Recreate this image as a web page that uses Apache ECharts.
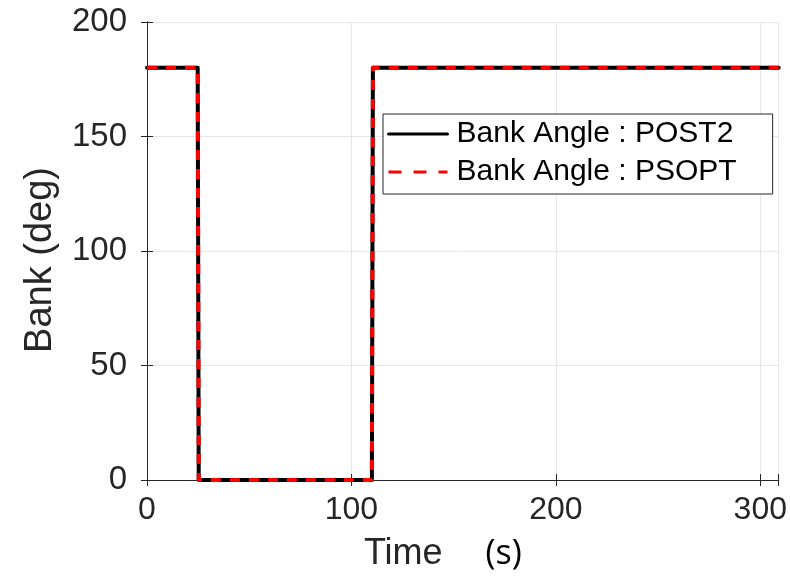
<!DOCTYPE html>
<html>
<head>
<meta charset="utf-8">
<script src="https://cdn.jsdelivr.net/npm/echarts@6/dist/echarts.min.js"></script>
<style>
  html, body { margin: 0; padding: 0; background: #fff; }
  #chart { width: 790px; height: 579px; }
</style>
</head>
<body>
<div id="chart"></div>
<script>
// Bank angle history (time in s, bank in deg)
const post2Time  = [0, 24.8, 25.3, 110.0, 110.5, 309];
const post2Bank  = [180, 180, 0, 0, 180, 180];
const psoptTime  = [0, 24.8, 25.3, 110.0, 110.5, 309];
const psoptBank  = [180, 180, 0, 0, 180, 180];
const seriesNames = ['Bank Angle : POST2', 'Bank Angle : PSOPT'];
const xTicks = [0, 100, 200, 300];
const yTicks = [0, 50, 100, 150, 200];

const pairs = (xs, ys) => xs.map((x, i) => [x, ys[i]]);

const axisColor = '#262626';
const gridColor = '#e6e6e6';
const font = '"Liberation Sans", Arial, Helvetica, sans-serif';

const chart = echarts.init(document.getElementById('chart'), null, { renderer: 'canvas' });

const baseAxis = {
  axisLine: { show: true, lineStyle: { color: axisColor, width: 1 } },
  axisTick: { show: true, inside: true, length: 6, lineStyle: { color: axisColor } },
  splitLine: { show: false }
};

chart.setOption({
  animation: false,
  backgroundColor: '#ffffff',
  grid: { left: 147, right: 9, top: 22, bottom: 99, containLabel: false },
  xAxis: [
    Object.assign({}, baseAxis, {
      type: 'value', min: 0, max: 309, interval: 100,
      name: '{t|Time}{s|(s)}', nameLocation: 'middle', nameGap: 56,
      nameTextStyle: {
        color: axisColor, padding: [0, 40, 0, 0],
        rich: {
          t: { fontFamily: font, fontSize: 36, color: axisColor },
          s: { fontFamily: '"Open Sans", sans-serif', fontSize: 34, color: '#000000', padding: [0, 0, 0, 43] }
        }
      },
      axisLabel: {
        fontFamily: font, fontSize: 32, color: axisColor, margin: 14,
        formatter: v => (xTicks.indexOf(v) >= 0 ? String(v) : '')
      },
      splitLine: { show: true, lineStyle: { color: gridColor, width: 1 } }
    }),
    Object.assign({}, baseAxis, {
      type: 'value', min: 0, max: 309, interval: 100, position: 'top',
      axisLabel: { show: false }
    })
  ],
  yAxis: [
    Object.assign({}, baseAxis, {
      type: 'value', min: 0, max: 200, interval: 50,
      name: 'Bank (deg)', nameLocation: 'middle', nameGap: 87,
      nameTextStyle: { fontFamily: font, fontSize: 38, color: axisColor, padding: [0, 18, 0, 0] },
      axisLabel: {
        fontFamily: font, fontSize: 33, color: axisColor, margin: 20,
        formatter: v => (yTicks.indexOf(v) >= 0 ? String(v) : '')
      },
      splitLine: { show: true, lineStyle: { color: gridColor, width: 1 } }
    }),
    Object.assign({}, baseAxis, {
      type: 'value', min: 0, max: 200, interval: 50, position: 'right',
      axisLabel: { show: false }
    })
  ],
  legend: {
    orient: 'vertical',
    left: 383, top: 114,
    backgroundColor: '#ffffff',
    borderColor: axisColor, borderWidth: 1, borderRadius: 0,
    padding: [5, 36, 7, 4],
    itemGap: 8,
    itemWidth: 59, itemHeight: 14,
    itemStyle: { opacity: 0 },
    lineStyle: { width: 3 },
    textStyle: { fontFamily: font, fontSize: 30, color: '#000000', padding: [0, 0, 0, 4] },
    data: [
      { name: seriesNames[0] },
      { name: seriesNames[1], lineStyle: { width: 3, type: [13, 12] } }
    ]
  },
  series: [
    {
      name: seriesNames[0], type: 'line', xAxisIndex: 0, yAxisIndex: 0,
      data: pairs(post2Time, post2Bank),
      showSymbol: false, symbol: 'none',
      lineStyle: { color: '#000000', width: 4, join: 'round', cap: 'round' },
      itemStyle: { color: '#000000' }, z: 2
    },
    {
      name: seriesNames[1], type: 'line', xAxisIndex: 0, yAxisIndex: 0,
      data: pairs(psoptTime, psoptBank),
      showSymbol: false, symbol: 'none',
      lineStyle: { color: '#ff0000', width: 4, type: [10, 9], join: 'round' },
      itemStyle: { color: '#ff0000' }, z: 3
    }
  ]
});
</script>
</body>
</html>
